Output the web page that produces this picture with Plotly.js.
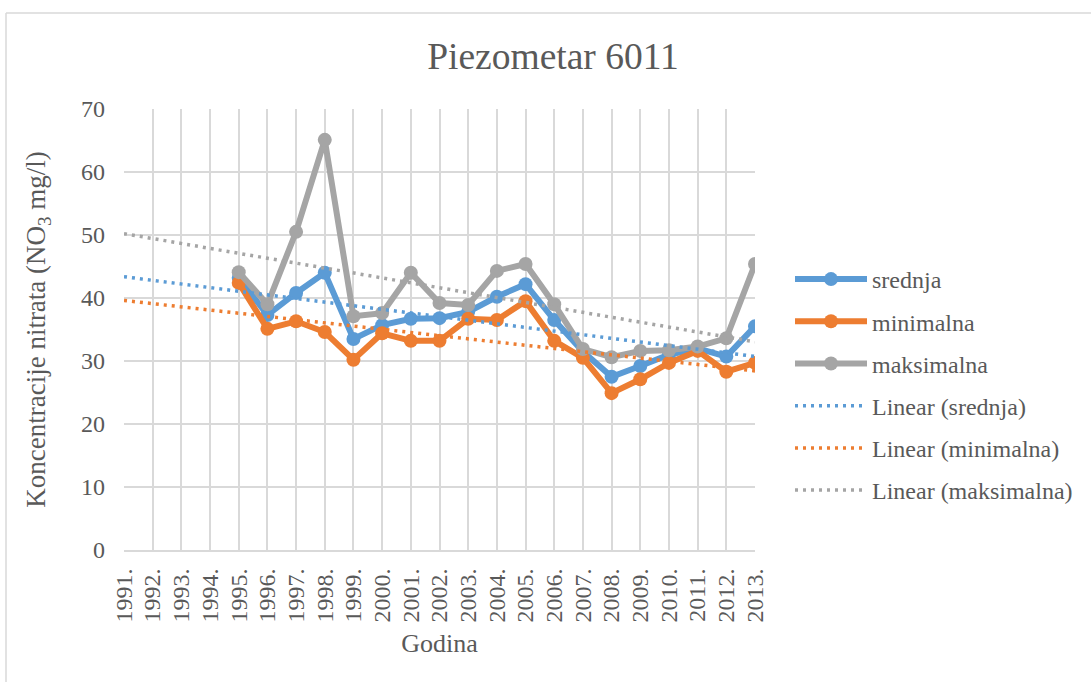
<!DOCTYPE html>
<html>
<head>
<meta charset="utf-8">
<script src="https://cdn.plot.ly/plotly-3.0.1.min.js"></script>
<style>
html,body{margin:0;padding:0;background:#fff;}
#chart{width:1091px;height:682px;}
</style>
</head>
<body>
<div id="chart"></div>
<script>
const years = ["1991.","1992.","1993.","1994.","1995.","1996.","1997.","1998.","1999.","2000.","2001.","2002.","2003.","2004.","2005.","2006.","2007.","2008.","2009.","2010.","2011.","2012.","2013."];
const srednja    = [null,null,null,null,43.2,37.3,40.8,44.0,33.5,35.7,36.7,36.8,37.8,40.2,42.2,36.5,31.5,27.5,29.2,31.0,32.0,30.7,35.5];
const minimalna  = [null,null,null,null,42.4,35.1,36.3,34.6,30.2,34.4,33.2,33.2,36.7,36.5,39.5,33.2,30.5,24.9,27.1,29.7,31.6,28.3,29.7];
const maksimalna = [null,null,null,null,44.1,39.0,50.5,65.1,37.1,37.6,44.0,39.2,38.9,44.3,45.4,39.0,31.9,30.6,31.6,31.7,32.3,33.6,45.4];
const seriesNames = ["srednja","minimalna","maksimalna"];
const colors = ["#5B9BD5","#ED7D31","#A5A5A5"];
const yTicks = [0,10,20,30,40,50,60,70];

// Excel-style linear trendline: least squares on category index (1..n), blanks ignored
function trend(vals){
  const xs=[],ys=[];
  vals.forEach((v,i)=>{ if(v!==null){ xs.push(i+1); ys.push(v);} });
  const n=xs.length, mx=xs.reduce((a,b)=>a+b,0)/n, my=ys.reduce((a,b)=>a+b,0)/n;
  let sxy=0,sxx=0;
  for(let i=0;i<n;i++){ sxy+=(xs[i]-mx)*(ys[i]-my); sxx+=(xs[i]-mx)**2; }
  const b=sxy/sxx, a=my-b*mx;
  return vals.map((_,i)=>a+b*(i+1));
}

const data = [srednja, minimalna, maksimalna];
const traces = [];
data.forEach((vals,k)=>{
  traces.push({
    x: years, y: vals, name: seriesNames[k], type:'scatter', mode:'lines+markers',
    line:{color:colors[k], width:6}, marker:{color:colors[k], size:14},
    connectgaps:false, legendgroup:'g'+k
  });
});
data.forEach((vals,k)=>{
  traces.push({
    x: years, y: trend(vals), name: 'Linear (' + seriesNames[k] + ')', type:'scatter', mode:'lines',
    line:{color:colors[k], width:3.5, dash:'3px,5px'}, hoverinfo:'skip', legendgroup:'t'+k
  });
});

const FAM = 'Liberation Serif, Times New Roman, serif';
const TXT = '#595959';
function f(size){ return {family:FAM, color:TXT, size:size}; }
const L=124, R=755, T=109, B=550;
const pw=R-L, ph=B-T;
const layout = {
  width:1091, height:682,
  margin:{l:L, r:1091-R, t:T, b:682-B, pad:0},
  paper_bgcolor:'#ffffff', plot_bgcolor:'#ffffff',
  font: f(24),
  title:{text:'Piezometar 6011', font:f(37.5),
         xref:'paper', x:(553-L)/pw, xanchor:'center',
         yref:'container', y:1-56/682, yanchor:'middle'},
  xaxis:{
    type:'category', categoryorder:'array', categoryarray:years,
    tickmode:'array', tickvals:years, ticktext:years,
    range:[0,22], tickangle:-90, showgrid:true, gridcolor:'#d9d9d9', gridwidth:2,
    zeroline:false, showline:true, linecolor:'#d9d9d9', linewidth:2,
    ticks:'', ticklabelstandoff:7,
    tickfont:f(24),
    title:{text:'Godina', font:f(26), standoff:12}
  },
  yaxis:{
    range:[0,70], tickmode:'array', tickvals:yTicks, showgrid:true, gridcolor:'#d9d9d9', gridwidth:2,
    zeroline:false, showline:false, ticks:'', ticklabelstandoff:18,
    tickfont:f(24),
    title:{text:'Koncentracije nitrata (NO<sub>3</sub> mg/l)', font:f(27), standoff:27}
  },
  legend:{
    x:(790-L)/pw, xanchor:'left', y:(B-385)/ph, yanchor:'middle',
    font:f(24), itemwidth:72, bgcolor:'rgba(0,0,0,0)',
    tracegroupgap:8
  },
  showlegend:true,
  shapes:[
    {type:'line', xref:'paper', yref:'paper', x0:(6-L)/pw, x1:(6-L)/pw, y0:(B-13)/ph, y1:(B-690)/ph, line:{color:'#d9d9d9', width:1.5}},
    {type:'line', xref:'paper', yref:'paper', x0:(6-L)/pw, x1:(1100-L)/pw, y0:(B-13)/ph, y1:(B-13)/ph, line:{color:'#d9d9d9', width:1.5}}
  ]
};
Plotly.newPlot('chart', traces, layout, {displayModeBar:false, staticPlot:true});
</script>
</body>
</html>
